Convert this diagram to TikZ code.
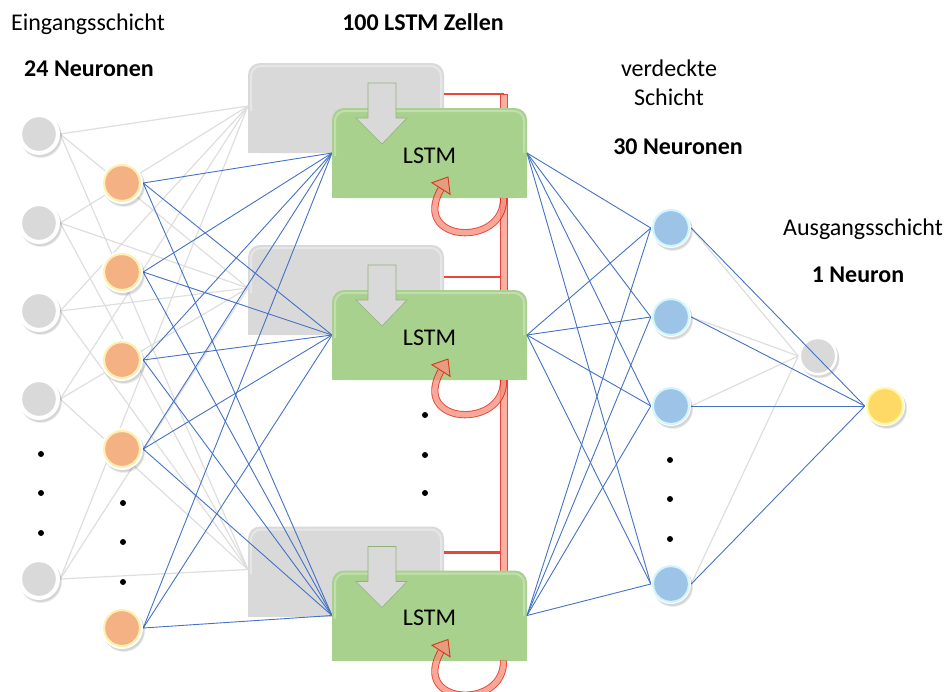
\documentclass[tikz,border=0pt]{standalone}
\usepackage{fontspec}
\setmainfont{Carlito}
\definecolor{lgray}{HTML}{D9D9D9}
\definecolor{lineg}{HTML}{DEDEDE}
\definecolor{lblue}{HTML}{4472C4}
\definecolor{lstmg}{HTML}{A9D18E}
\definecolor{orng}{HTML}{F4B183}
\definecolor{orglow}{HTML}{FFF0B0}
\definecolor{bluen}{HTML}{9DC3E6}
\definecolor{blueglow}{HTML}{D2F6FF}
\definecolor{yel}{HTML}{FFD966}
\definecolor{yelglow}{HTML}{FFF9A8}
\definecolor{redl}{HTML}{E8473B}
\definecolor{pinkf}{HTML}{F9AFA2}
\definecolor{curvered}{HTML}{DE1000}
\definecolor{curvepink}{HTML}{F68E7C}
\pgfdeclarelayer{gl}\pgfdeclarelayer{gb}\pgfdeclarelayer{bl}\pgfdeclarelayer{gr}
\pgfdeclarelayer{ml}\pgfdeclarelayer{gnl}\pgfdeclarelayer{byl}
\pgfsetlayers{gl,gb,bl,gr,ml,gnl,byl,main}
\begin{document}
\begin{tikzpicture}[x=1pt,y=-1pt,
  neuron/.style 2 args={circle, minimum size=42pt, inner sep=0pt, fill=white,
    preaction={fill=black, opacity=0.07, transform canvas={xshift=2pt, yshift=-3pt}, scale=1.04},
    preaction={fill=black, opacity=0.10, transform canvas={xshift=1.5pt, yshift=-2pt}},
    path picture={\fill[#2] (path picture bounding box.center) circle (19pt);
                  \fill[#1] (path picture bounding box.center) circle (16.8pt);}},
  boxn/.style={minimum width=196pt, minimum height=90pt, inner sep=0pt, outer sep=0pt},
  lstmtext/.style={font=\fontsize{24}{29}\selectfont, text height=20.5pt, text depth=0pt},
  lab/.style={font=\fontsize{24}{29}\selectfont, inner sep=0pt, anchor=base},
  blab/.style={font=\fontsize{24}{29}\selectfont\bfseries, inner sep=0pt, anchor=base},
  gline/.style={draw=lineg, line width=1.2pt},
  bline/.style={draw=lblue, line width=0.9pt},
  redline/.style={draw=redl, line width=2.6pt},
  dot/.style={fill=black}
]
\useasboundingbox (0,0) rectangle (948,691);

% ---------- texts ----------
\node[lab]  (t1) at (88,30)  {Eingangsschicht};
\node[blab] (t2) at (89,76)  {24 Neuronen};
\node[blab] (t3) at (423,30) {100 LSTM Zellen};
\node[lab]  (t4) at (669,76) {verdeckte};
\node[lab]  (t5) at (669,105) {Schicht};
\node[blab] (t6) at (678,154) {30 Neuronen};
\node[lab]  (t7) at (863,235) {Ausgangsschicht};
\node[blab] (t8) at (858,282) {1 Neuron};

% ---------- boxes (anchors only; shapes drawn on layers) ----------
\node[boxn] (lg1) at (346,108) {};
\node[boxn] (lg2) at (346,290) {};
\node[boxn] (lg3) at (346,571.5) {};
\node[boxn, lstmtext, minimum width=195pt] (lstm1) at (429.5,153) {LSTM};
\node[boxn, lstmtext, minimum width=195pt] (lstm2) at (429.5,335) {LSTM};
\node[boxn, lstmtext, minimum width=195pt] (lstm3) at (429.5,615.5) {LSTM};

% ---------- neurons (main layer, on top) ----------
\node[neuron={lgray}{white}] (in1) at (39,134) {};
\node[neuron={lgray}{white}] (in2) at (39,223) {};
\node[neuron={lgray}{white}] (in3) at (39,311) {};
\node[neuron={lgray}{white}] (in4) at (39,399) {};
\node[neuron={lgray}{white}] (in5) at (39,579) {};
\node[neuron={orng}{orglow}] (h1) at (122,183) {};
\node[neuron={orng}{orglow}] (h2) at (122,272) {};
\node[neuron={orng}{orglow}] (h3) at (122,360) {};
\node[neuron={orng}{orglow}] (h4) at (122,449) {};
\node[neuron={orng}{orglow}] (h5) at (122,628) {};
\node[neuron={bluen}{blueglow}, minimum size=40pt] (b1) at (671,228) {};
\node[neuron={bluen}{blueglow}, minimum size=40pt] (b2) at (671,317) {};
\node[neuron={bluen}{blueglow}, minimum size=40pt] (b3) at (671,406) {};
\node[neuron={bluen}{blueglow}, minimum size=40pt] (b4) at (671,584) {};
\node[neuron={yel}{yelglow}, minimum size=40pt] (out) at (885,406) {};
\foreach \y in {454,493,533} \fill[dot] (41,\y) circle (3pt);
\foreach \y in {503,542,582} \fill[dot] (123,\y) circle (3pt);
\foreach \y in {415,455,493} \fill[dot] (425,\y) circle (3pt);
\foreach \y in {460,499,539} \fill[dot] (670,\y) circle (3pt);
\begin{pgfonlayer}{gnl}
\node[neuron={lgray}{white}, minimum size=39pt] (gn) at (818,356) {};
\end{pgfonlayer}

% ---------- gray connections input -> gray boxes ----------
\begin{pgfonlayer}{gl}
\foreach \i in {1,...,5}
  \foreach \k in {1,2,3}
    \draw[gline] (in\i.east) -- ([yshift=2pt]lg\k.west);
\end{pgfonlayer}

% ---------- gray boxes and red lines ----------
\begin{pgfonlayer}{gb}
\foreach \k in {1,2,3}{
  \fill[lgray, rounded corners=12pt] (lg\k.south west) rectangle (lg\k.north east);
  \fill[lgray] (lg\k.south west) rectangle (lg\k.east);
  \draw[white, opacity=0.35, line width=2pt, rounded corners=10pt]
     ([shift={(3pt,-3pt)}]lg\k.west) -- ([shift={(3pt,-3pt)}]lg\k.north west)
     -- ([shift={(-3pt,-3pt)}]lg\k.north east) -- ([shift={(-3pt,0pt)}]lg\k.east);
}
\coordinate (bartop) at (503.5,94);
\coordinate (barbot) at (503.5,660);
\coordinate (r1) at ([yshift=-31pt]lg1.north east);
\coordinate (r2) at ([yshift=-32pt]lg2.north east);
\coordinate (r3) at ([yshift=-26pt]lg3.north east);
\foreach \k in {1,2,3} \draw[redline] (r\k) -- (r\k -| bartop);
\draw[draw=redl, fill=pinkf, line width=0.8pt] ([xshift=-3.5pt]bartop) rectangle ([xshift=3.5pt]barbot);
\end{pgfonlayer}

% ---------- blue connections orange -> LSTM ----------
\begin{pgfonlayer}{bl}
\foreach \i in {1,...,5}
  \foreach \k in {1,2,3}
    \draw[bline] (h\i.east) -- (lstm\k.west);
\end{pgfonlayer}

% ---------- green boxes, arrows ----------
\begin{pgfonlayer}{gr}
\foreach \k in {1,2,3}{
  \fill[lstmg, rounded corners=12pt] (lstm\k.south west) rectangle (lstm\k.north east);
  \fill[lstmg] (lstm\k.south west) rectangle (lstm\k.east);
  \draw[white, opacity=0.3, line width=2pt, rounded corners=10pt]
     ([shift={(3pt,-3pt)}]lstm\k.west) -- ([shift={(3pt,-3pt)}]lstm\k.north west)
     -- ([shift={(-3pt,-3pt)}]lstm\k.north east) -- ([shift={(-3pt,0pt)}]lstm\k.east);
  \begin{scope}[shift={(lg\k.north west)}]
    \draw[fill=lgray, draw=lstmg!85!black, line width=0.6pt]
      (120,20) -- (148,20) -- (148,55) -- (159,55) -- (134,81) -- (108,55) -- (120,55) -- cycle;
  \end{scope}
  \coordinate (cs\k) at (lstm\k.south -| bartop);
  \begin{scope}[shift={(cs\k)}, transparency group, opacity=0.78]
    \draw[curvered, line width=7.2pt] (0,0) .. controls +(1.5,50) and +(-31,54) .. (-62.5,-9);
    \draw[curvepink, line width=5.4pt] (0,0) .. controls +(1.5,50) and +(-31,54) .. (-62.5,-9);
    \filldraw[fill=curvepink, draw=curvered, line width=0.9pt, line join=miter]
      (-71.6,-15.3) -- (-55.5,-21) -- (-53.4,-3.7) -- cycle;
  \end{scope}
}
\end{pgfonlayer}

% ---------- LSTM -> hidden, hidden -> output ----------
\begin{pgfonlayer}{ml}
\foreach \k in {1,2,3}
  \foreach \j in {1,...,4}
    \draw[bline] (lstm\k.east) -- (b\j.west);
\foreach \j in {1,...,4}
  \draw[gline] (b\j.east) -- (gn.west);
\end{pgfonlayer}
\begin{pgfonlayer}{byl}
\foreach \j in {1,...,4}
  \draw[bline] (b\j.east) -- (out.west);
\end{pgfonlayer}
\end{tikzpicture}
\end{document}
